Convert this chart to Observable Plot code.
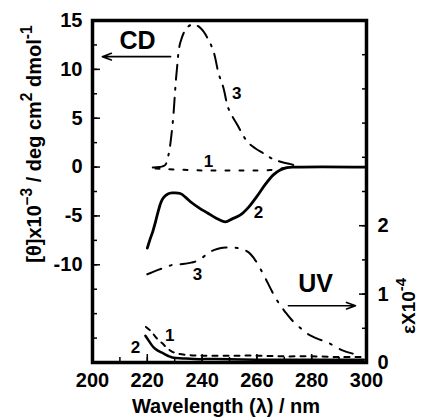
<!DOCTYPE html>
<html><head><meta charset="utf-8">
<script src="https://cdn.jsdelivr.net/npm/d3@7"></script>
<script src="https://cdn.jsdelivr.net/npm/@observablehq/plot@0.6"></script>
<style>
body{margin:0;background:#fff;}
#chart svg{display:block;}
</style>
</head><body><div id="chart"></div>
<script>
// ---- data ----
// CD spectra: wavelength (nm) and [theta] x 10^-3
const cd1Wl = [223, 226, 230, 235, 240, 245, 250, 255, 260, 265, 268, 271, 274];
const cd1Val = [-0.15, -0.2, -0.25, -0.3, -0.35, -0.35, -0.35, -0.35, -0.35, -0.3, -0.2, -0.05, 0];
const cd2Wl = [220, 221, 222, 223, 224, 225, 226, 227.5, 229, 232, 234, 236, 239, 242, 245, 248.5, 251, 254, 257, 260, 263, 266, 268.5, 271, 274, 300];
const cd2Val = [-8.3, -7.4, -6.6, -5.6, -4.5, -3.6, -3.1, -2.75, -2.65, -2.7, -3.1, -3.6, -4.2, -4.7, -5.2, -5.6, -5.3, -4.9, -4.1, -3.0, -1.8, -0.8, -0.3, -0.05, 0, 0];
const cd3Wl = [222, 224.5, 226.5, 227.7, 229.2, 230.7, 232.1, 234.6, 236.9, 239.5, 242, 244.2, 246, 247.8, 249.6, 252.9, 256.5, 259.5, 262.4, 266, 269.3, 272.3, 275];
const cd3Val = [-0.05, 0, 0.2, 1.2, 4.3, 9.7, 12.8, 14.3, 14.6, 14.2, 13.2, 11.8, 9.6, 8.1, 6.0, 4.3, 2.6, 1.9, 1.4, 0.8, 0.5, 0.3, 0.05];
// UV spectra: wavelength (nm) and epsilon x 10^-4
const uv1Wl = [219.5, 221, 222.5, 224, 225.5, 227, 229, 231, 235, 240, 250, 260, 270, 280, 290, 299];
const uv1Val = [0.52, 0.47, 0.4, 0.33, 0.28, 0.22, 0.16, 0.13, 0.11, 0.1, 0.1, 0.1, 0.09, 0.09, 0.08, 0.08];
const uv2Wl = [219.3, 220.5, 222.3, 224, 226, 228, 229.6, 233, 237, 245, 260, 280, 299];
const uv2Val = [0.39, 0.32, 0.22, 0.17, 0.13, 0.09, 0.07, 0.06, 0.05, 0.05, 0.04, 0.04, 0.04];
const uv3Wl = [220, 223, 226.5, 229.5, 233, 236, 238.5, 241, 243, 245.5, 248.5, 251.5, 254.5, 257, 259, 261, 263, 265, 267, 268.5, 270.5, 273, 276, 278.5, 282, 286, 291, 295];
const uv3Val = [1.29, 1.34, 1.39, 1.43, 1.44, 1.46, 1.49, 1.56, 1.62, 1.66, 1.68, 1.68, 1.66, 1.61, 1.52, 1.39, 1.24, 1.08, 0.93, 0.84, 0.73, 0.61, 0.5, 0.42, 0.35, 0.29, 0.18, 0.13];

// axis ticks
const xTickLabels = [200, 220, 240, 260, 280, 300];
const xTicksAll = [200, 210, 220, 230, 240, 250, 260, 270, 280, 290, 300];
const cdTickLabels = [15, 10, 5, 0, -5, -10];
const cdTicksAll = [15, 12.5, 10, 7.5, 5, 2.5, 0, -2.5, -5, -7.5, -10, -12.5, -15, -17.5, -20];
const uvTickLabels = [0, 1, 2];
const uvTicksAll = [0, 0.5, 1, 1.5, 2, 2.5, 3, 3.5, 4, 4.5, 5];

// curve labels (wavelength, value, axis)
const curveLabelText = ["1", "3", "2", "3", "1", "2"];
const curveLabelWl = [242.3, 252.6, 260.6, 238.3, 228.2, 215.7];
const curveLabelVal = [0.6, 7.5, -4.7, 1.28, 0.39, 0.22];
const curveLabelAxis = ["cd", "cd", "cd", "uv", "uv", "uv"];

// annotation arrows: CD (left), UV (right)
const noteText = ["CD", "UV"];
const noteWl = [216.4, 281.4];
const noteVal = [12.9, 1.15];
const noteAxis = ["cd", "uv"];
const arrowFromWl = [228.5, 271.5];
const arrowToWl = [203.6, 296.0];
const arrowVal = [11.3, 0.83];

// ---- build ----
const uvToCd = d3.scaleLinear([0, 5], [-20, 15]); // right axis shares the plot's y scale
const toY = (v, axis) => axis === "uv" ? uvToCd(v) : v;
const series = (wl, val, axis) => wl.map((w, i) => ({x: w, y: toY(val[i], axis)}));

const cd1 = series(cd1Wl, cd1Val, "cd");
const cd2 = series(cd2Wl, cd2Val, "cd");
const cd3 = series(cd3Wl, cd3Val, "cd");
const uv1 = series(uv1Wl, uv1Val, "uv");
const uv2 = series(uv2Wl, uv2Val, "uv");
const uv3 = series(uv3Wl, uv3Val, "uv");
const curveLabels = curveLabelText.map((t, i) => ({t, x: curveLabelWl[i], y: toY(curveLabelVal[i], curveLabelAxis[i])}));
const notes = noteText.map((t, i) => ({t, x: noteWl[i], y: toY(noteVal[i], noteAxis[i]),
  x1: arrowFromWl[i], x2: arrowToWl[i], ya: toY(arrowVal[i], noteAxis[i])}));

const font = "'Liberation Sans', Arial, Helvetica, sans-serif";
const fmt = d => String(d);

const chart = Plot.plot({
  width: 421,
  height: 418,
  marginLeft: 92,
  marginRight: 55,
  marginTop: 20,
  marginBottom: 56,
  style: {fontFamily: font, fontWeight: "bold", fontSize: "19px", color: "#000", background: "#fff"},
  x: {domain: [200, 300]},
  y: {domain: [-20, 15]},
  marks: [
    // inward ticks
    Plot.axisX(xTicksAll, {anchor: "bottom", tickSize: -5, tickFormat: () => "", label: null, strokeWidth: 1.5}),
    Plot.axisX(xTickLabels, {anchor: "bottom", tickSize: -8, tickFormat: () => "", label: null, strokeWidth: 1.5}),
    Plot.axisY(cdTicksAll, {anchor: "left", tickSize: -5, tickFormat: () => "", label: null, strokeWidth: 1.5}),
    Plot.axisY(cdTickLabels, {anchor: "left", tickSize: -8, tickFormat: () => "", label: null, strokeWidth: 1.5}),
    Plot.axisY(uvTicksAll.map(uvToCd), {anchor: "right", tickSize: -5, tickFormat: () => "", label: null, strokeWidth: 1.5}),
    Plot.axisY(uvTickLabels.map(uvToCd), {anchor: "right", tickSize: -8, tickFormat: () => "", label: null, strokeWidth: 1.5}),
    // tick labels
    Plot.axisX(xTickLabels, {anchor: "bottom", tickSize: 0, tickPadding: 10, tickFormat: fmt, label: null, fontSize: 20, fontWeight: "bold"}),
    Plot.axisY(cdTickLabels, {anchor: "left", tickSize: 0, tickPadding: 10, tickFormat: fmt, label: null, fontSize: 20, fontWeight: "bold"}),
    Plot.axisY(uvTickLabels.map(uvToCd), {anchor: "right", tickSize: 0, tickPadding: 11, tickFormat: d => fmt(Math.round(uvToCd.invert(d))), label: null, fontSize: 20, fontWeight: "bold"}),
    // curves
    Plot.line(cd1, {x: "x", y: "y", stroke: "#000", strokeWidth: 2, strokeDasharray: "4,10", curve: "catmull-rom"}),
    Plot.line(cd3, {x: "x", y: "y", stroke: "#000", strokeWidth: 2, strokeDasharray: "15,8,2,8", curve: "catmull-rom"}),
    Plot.line(cd2, {x: "x", y: "y", stroke: "#000", strokeWidth: 2.8, curve: "catmull-rom"}),
    Plot.line(uv3, {x: "x", y: "y", stroke: "#000", strokeWidth: 2, strokeDasharray: "15,9,2,9", curve: "catmull-rom"}),
    Plot.line(uv1, {x: "x", y: "y", stroke: "#000", strokeWidth: 2, strokeDasharray: "5,6", curve: "catmull-rom"}),
    Plot.line(uv2, {x: "x", y: "y", stroke: "#000", strokeWidth: 2.5, curve: "catmull-rom"}),
    // curve labels
    Plot.text(curveLabels, {x: "x", y: "y", text: "t", fontSize: 17, fontWeight: "bold", fill: "#000"}),
    // annotations
    Plot.text(notes, {x: "x", y: "y", text: "t", fontSize: 25, fontWeight: "bold", fill: "#000"}),
    Plot.arrow(notes, {x1: "x1", x2: "x2", y1: "ya", y2: "ya", stroke: "#000", strokeWidth: 1.6, headLength: 9, headAngle: 40}),
    Plot.frame({stroke: "#000", strokeWidth: 3.5})
  ]
});
document.getElementById("chart").append(chart);

// axis titles with superscripts
const svg = d3.select(chart);
function title(x, y, rot, parts, size) {
  const t = svg.append("text")
    .attr("transform", `translate(${x},${y}) rotate(${rot})`)
    .attr("text-anchor", "middle")
    .attr("font-family", font)
    .attr("font-weight", "bold")
    .attr("font-size", size)
    .attr("fill", "#000");
  let shifted = 0;
  for (const [s, sup] of parts) {
    const sp = t.append("tspan").text(s);
    const target = sup ? -size * 0.45 : 0;
    if (target !== shifted) { sp.attr("dy", target - shifted); shifted = target; }
    if (sup) sp.attr("font-size", size * 0.78);
  }
  return t;
}
title(41, 144, -90, [["[θ]x10", false], ["–3", true], [" / deg cm", false], ["2", true], [" dmol", false], ["-1", true]], 20);
title(415, 306, -90, [["εX10", false], ["-4", true]], 19);
title(226, 413, 0, [["Wavelength (λ) / nm", false]], 20);
</script>
</body></html>
